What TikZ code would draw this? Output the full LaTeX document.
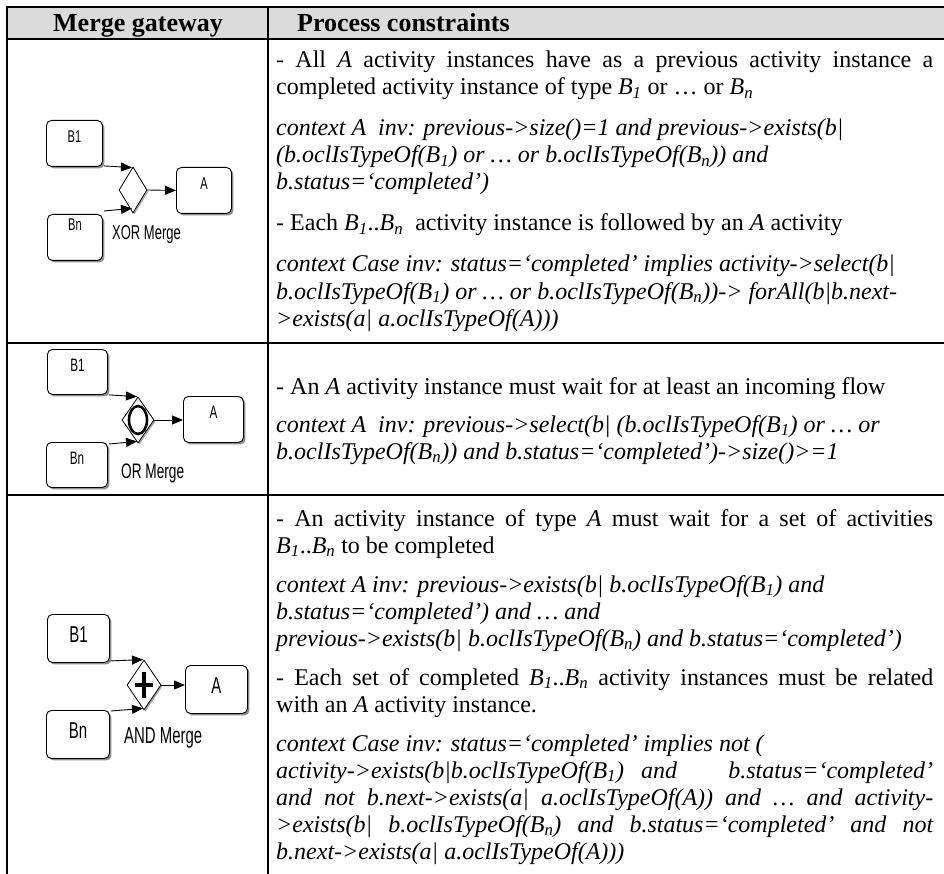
\documentclass[tikz,border=0pt]{standalone}
\usepackage{fontspec}
\setmainfont{Liberation Serif}
\newfontfamily\nsans[FakeStretch=0.65]{Liberation Sans}
\usetikzlibrary{arrows.meta,shapes.geometric,shadows,calc}
\newcommand\BB[1]{\textit{B\textsubscript{#1}}}
\newcommand\subs[1]{\textsubscript{#1}}
\newcommand\jl[1]{\makebox[657pt][s]{#1}}
\begin{document}
\begin{tikzpicture}[x=1pt,y=-1pt,
  actbox/.style={draw=black, line width=0.9pt, rounded corners=5pt, fill=white, inner sep=0pt, anchor=north west,
     drop shadow={shadow xshift=2pt, shadow yshift=-2pt, opacity=1, fill=black!45}},
  gate/.style={diamond, draw=black, line width=0.8pt, fill=white, inner sep=0pt,
     drop shadow={shadow xshift=1.5pt, shadow yshift=-1.5pt, opacity=1, fill=black!35}},
  flow/.style={line width=0.9pt, -{Triangle[length=11pt,width=9pt]}},
  txt/.style={anchor=base west, inner sep=0pt, font=\fontsize{24}{27}\selectfont},
  itx/.style={anchor=base west, inner sep=0pt, font=\fontsize{24}{27}\selectfont\itshape},
  hdr/.style={anchor=base, inner sep=0pt, font=\fontsize{26}{28}\selectfont\bfseries},
  blbla/.style={inner sep=0pt, font=\nsans\fontsize{17}{17}\selectfont},
  blblb/.style={inner sep=0pt, font=\nsans\fontsize{18}{18}\selectfont},
  blblc/.style={inner sep=0pt, font=\nsans\fontsize{23}{23}\selectfont},
  mlbl/.style={anchor=west, inner sep=0pt},
  tbl/.style={line width=2pt},
]
\useasboundingbox (0,0) rectangle (944,874);
% table
\fill[black!14] (7,7) rectangle (944,39);
\draw[tbl] (6,7) -- (944,7);
\draw[tbl] (6,39) -- (944,39);
\draw[tbl] (6,343) -- (944,343);
\draw[tbl] (6,495) -- (944,495);
\draw[tbl] (7,6) -- (7,874);
\draw[tbl] (268,6) -- (268,874);
% header
\node[hdr] (h1) at (138,31.5) {Merge gateway};
\node[hdr, anchor=base west] (h2) at (297,31.5) {Process constraints};

% ---------- Row 1: XOR ----------
\node[actbox, minimum width=56pt, minimum height=46pt] (x1b1) at (46,120) {};
\node[actbox, minimum width=55pt, minimum height=46pt] (x1bn) at (47,214) {};
\node[actbox, minimum width=55pt, minimum height=46pt] (x1a) at (176,167) {};
\node[gate, minimum width=28pt, minimum height=46pt] (x1d) at (133,190) {};
\node[blbla] (x1b1t) at ($(x1b1.north)+(0,17)$) {B1};
\node[blbla] (x1bnt) at ($(x1bn.north)+(0,11)$) {Bn};
\node[blbla] (x1at) at ($(x1a.north)+(0,17)$) {A};
\node[mlbl, font=\nsans\fontsize{20}{20}\selectfont] (x1lab) at (112,235) {XOR Merge};
\draw[flow] ($(x1b1.south east)+(1,-1)$) -- ($(x1d.north)+(-1,1)$);
\draw[flow] ($(x1bn.north east)+(1,-3)$) -- ($(x1d.south)+(-1,-5)$);
\draw[flow] (x1d.east) -- (x1a.west);

% ---------- Row 2: OR ----------
\node[actbox, minimum width=60pt, minimum height=45pt] (x2b1) at (47,349) {};
\node[actbox, minimum width=61pt, minimum height=45pt] (x2bn) at (46,442) {};
\node[actbox, minimum width=60pt, minimum height=46pt] (x2a) at (183,396) {};
\node[gate, minimum width=32pt, minimum height=46pt] (x2d) at (138,420) {};
\draw[line width=2.6pt] (x2d.center) ellipse [x radius=9pt, y radius=14pt];
\node[blblb] (x2b1t) at ($(x2b1.north)+(0,16)$) {B1};
\node[blblb] (x2bnt) at ($(x2bn.north)+(0,16)$) {Bn};
\node[blblb] (x2at) at ($(x2a.north)+(0,16)$) {A};
\node[mlbl, font=\nsans\fontsize{21}{21}\selectfont] (x2lab) at (121,473) {OR Merge};
\draw[flow] ($(x2b1.south east)+(1,0)$) -- ($(x2d.north)+(-1,0)$);
\draw[flow] ($(x2bn.north east)+(1,2)$) -- ($(x2d.south)+(-1,-2)$);
\draw[flow] (x2d.east) -- (x2d.east -| x2a.west);

% ---------- Row 3: AND ----------
\node[actbox, minimum width=62pt, minimum height=48pt] (x3b1) at (47,614) {};
\node[actbox, minimum width=63pt, minimum height=48pt] (x3bn) at (46,710) {};
\node[actbox, minimum width=62pt, minimum height=48pt] (x3a) at (185,665) {};
\node[gate, minimum width=34pt, minimum height=50pt] (x3d) at (144,685) {};
\draw[line width=3.4pt] ($(x3d.center)+(-9,0)$) -- ($(x3d.center)+(9,0)$);
\draw[line width=3.4pt] ($(x3d.center)+(0,-13)$) -- ($(x3d.center)+(0,13)$);
\node[blblc] (x3b1t) at ($(x3b1.north)+(0,21)$) {B1};
\node[blblc] (x3bnt) at ($(x3bn.north)+(0,21)$) {Bn};
\node[blblc] (x3at) at ($(x3a.north)+(0,21)$) {A};
\node[mlbl, font=\nsans\fontsize{23}{23}\selectfont] (x3lab) at (124,738) {AND Merge};
\draw[flow] ($(x3b1.south east)+(1,-2)$) -- ($(x3d.north)+(-1,0)$);
\draw[flow] ($(x3bn.north east)+(1,1)$) -- ($(x3d.south)+(-1,-2)$);
\draw[flow] (x3d.east) -- (x3d.east -| x3a.west);

% ---------- Row 1 text ----------
\node[txt] (r1a) at (276,68) {\jl{- All \textit{A} activity instances have as a previous activity instance a}};
\node[txt] (r1b) at (276,95) {completed activity instance of type \BB{1} or … or \BB{n}};
\node[itx] (r1c) at (276,136) {context A~~inv: previous->size()=1 and previous->exists(b|};
\node[itx] (r1d) at (276,163) {(b.oclIsTypeOf(B\subs{1}) or … or b.oclIsTypeOf(B\subs{n})) and};
\node[itx] (r1e) at (276,190) {b.status=‘completed’)};
\node[txt] (r1f) at (276,231) {- Each \BB{1}..\BB{n}~~activity instance is followed by an \textit{A} activity};
\node[itx] (r1g) at (276,272) {context Case inv: status=‘completed’ implies activity->select(b|};
\node[itx] (r1h) at (276,299) {b.oclIsTypeOf(B\subs{1}) or … or b.oclIsTypeOf(B\subs{n}))-> forAll(b|b.next-};
\node[itx] (r1i) at (276,326) {>exists(a| a.oclIsTypeOf(A)))};

% ---------- Row 2 text ----------
\node[txt] (r2a) at (276,394) {- An \textit{A} activity instance must wait for at least an incoming flow};
\node[itx] (r2b) at (276,432) {context A~~inv: previous->select(b| (b.oclIsTypeOf(B\subs{1}) or … or};
\node[itx] (r2c) at (276,459) {b.oclIsTypeOf(B\subs{n})) and b.status=‘completed’)->size()>=1};

% ---------- Row 3 text ----------
\node[txt] (r3a) at (276,526) {\jl{- An activity instance of type \textit{A} must wait for a set of activities}};
\node[txt] (r3b) at (276,553) {\BB{1}..\BB{n} to be completed};
\node[itx] (r3c) at (276,592) {context A inv: previous->exists(b| b.oclIsTypeOf(B\subs{1}) and};
\node[itx] (r3d) at (276,619) {b.status=‘completed’) and … and};
\node[itx] (r3e) at (276,646) {previous->exists(b| b.oclIsTypeOf(B\subs{n}) and b.status=‘completed’)};
\node[txt] (r3f) at (276,685) {\jl{- Each set of completed \BB{1}..\BB{n} activity instances must be related}};
\node[txt] (r3g) at (276,712) {with an \textit{A} activity instance.};
\node[itx] (r3h) at (276,751) {context Case inv: status=‘completed’ implies not (};
\node[itx] (r3i) at (276,778) {\jl{activity->exists(b|b.oclIsTypeOf(B\subs{1}) and~~~b.status=‘completed’}};
\node[itx] (r3j) at (276,805) {\jl{and not b.next->exists(a| a.oclIsTypeOf(A)) and … and activity-}};
\node[itx] (r3k) at (276,832) {\jl{>exists(b| b.oclIsTypeOf(B\subs{n}) and b.status=‘completed’ and not}};
\node[itx] (r3l) at (276,859) {b.next->exists(a| a.oclIsTypeOf(A)))};
\end{tikzpicture}
\end{document}
